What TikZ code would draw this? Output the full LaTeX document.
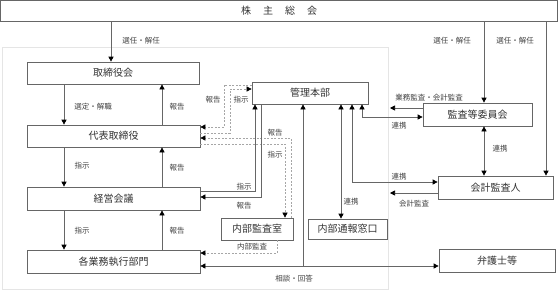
\documentclass[tikz,border=0pt]{standalone}
\usepackage{fontspec}
\setmainfont{Noto Sans CJK JP}
\usetikzlibrary{arrows.meta,calc}
\tikzset{
  box/.style={draw=black!60, line width=0.7pt, rectangle, inner sep=0pt, font=\fontsize{10}{12}\selectfont, text=black!80},
  lbl/.style={font=\fontsize{7.5}{9}\selectfont, text=black!75, inner sep=0pt},
  conn/.style={draw=black!60, line width=0.7pt},
  dconn/.style={draw=black!35, line width=0.6pt, dash pattern=on 2pt off 1.5pt},
  arr/.style={-{Triangle[length=5pt,width=5pt,color=black]}},
  darr/.style={{Triangle[length=5pt,width=5pt,color=black]}-{Triangle[length=5pt,width=5pt,color=black]}},
}
\begin{document}
\begin{tikzpicture}[x=1pt,y=-1pt]
\useasboundingbox (0,0) rectangle (560,290);
% container
\draw[draw=black!10, line width=0.6pt] (2,47) rectangle (388,289);
% boxes
\node[box, minimum width=557pt, minimum height=21pt] (top) at (279,11) {株\hspace{12pt}主\hspace{12pt}総\hspace{12pt}会};
\node[box, minimum width=172pt, minimum height=22pt] (tori) at (113,73) {取締役会};
\node[box, minimum width=173pt, minimum height=22pt] (daihyo) at (113.5,136) {代表取締役};
\node[box, minimum width=173pt, minimum height=23pt] (keiei) at (113.5,198.5) {経営会議};
\node[box, minimum width=173pt, minimum height=23pt] (kaku) at (113.5,261.5) {各業務執行部門};
\node[box, minimum width=116pt, minimum height=22pt] (kanri) at (310,93) {管理本部};
\node[box, minimum width=109pt, minimum height=23pt] (kansa) at (477.5,114.5) {監査等委員会};
\node[box, minimum width=115pt, minimum height=23pt] (kaikei) at (495.5,187.5) {会計監査人};
\node[box, minimum width=72pt, minimum height=22pt] (naibu) at (257,229) {内部監査室};
\node[box, minimum width=79pt, minimum height=20pt] (tsuho) at (347.5,229) {内部通報窓口};
\node[box, minimum width=116pt, minimum height=23pt] (bengo) at (497,260.5) {弁護士等};

% from shareholders meeting
\draw[conn,arr] (top.south -| 111,0) -- (tori.north -| 111,0);
\node[lbl] (l1) at (141,41) {選任・解任};
\draw[conn,arr] (top.south -| 484,0) -- (kansa.north -| 484,0);
\node[lbl] (l2) at (452,41) {選任・解任};
\draw[conn,arr] (top.south -| 546,0) -- (kaikei.north -| 546,0);
\node[lbl] (l3) at (515,41) {選任・解任};

% left column
\draw[conn,arr] (tori.south -| 64,0) -- (daihyo.north -| 64,0);
\node[lbl] (l4) at (93,107) {選定・解職};
\draw[conn,arr] (daihyo.north -| 162,0) -- (tori.south -| 162,0);
\node[lbl] (l5) at (177,107) {報告};
\draw[conn,arr] (daihyo.south -| 64,0) -- (keiei.north -| 64,0);
\node[lbl] (l6) at (82,166) {指示};
\draw[conn,arr] (keiei.north -| 162,0) -- (daihyo.south -| 162,0);
\node[lbl] (l7) at (177,168) {報告};
\draw[conn,arr] (keiei.south -| 64,0) -- (kaku.north -| 64,0);
\node[lbl] (l8) at (82,231) {指示};
\draw[conn,arr] (kaku.north -| 162,0) -- (keiei.south -| 162,0);
\node[lbl] (l9) at (177,231) {報告};

% dashed: kanri <-> daihyo
\draw[dconn,arr] (kanri.west |- 0,85) -| (224,127) -- (daihyo.east |- 0,127);
\node[lbl] (l10) at (213,100) {報告};
\draw[dconn,arr] (daihyo.east |- 0,133) -| (230,89) -- (kanri.west |- 0,89);
\node[lbl] (l11) at (241,100) {指示};

% dashed: naibu kansa <-> daihyo
\draw[dconn,arr] (naibu.north -| 291,0) |- (daihyo.east |- 0,138);
\node[lbl] (l12) at (275,133) {報告};
\draw[dconn,arr] (daihyo.east |- 0,144) -| (naibu.north -| 285,0);
\node[lbl] (l13) at (275,155) {指示};
\draw[dconn,arr] (naibu.south -| 277,0) |- (kaku.east |- 0,253);
\node[lbl] (l14) at (252,247) {内部監査};

% keiei <-> kanri
\draw[conn,arr] (keiei.east |- 0,191) -| (kanri.south -| 255,0);
\node[lbl] (l15) at (244,187) {指示};
\draw[conn,arr] (kanri.south -| 261,0) |- (keiei.east |- 0,197);
\node[lbl] (l16) at (244,206) {報告};

% consultation
\coordinate (j1) at (303,266);
\draw[conn,darr] (kaku.east |- 0,266) -- (bengo.west |- 0,266);
\draw[conn,arr] (j1) -- (kanri.south -| 303,0);
\node[lbl] (l17) at (294,279) {相談・回答};

% kanri to the right
\draw[conn,darr] (kanri.south -| 341,0) -- (tsuho.north -| 341,0);
\node[lbl] (l18) at (351,202) {連携};
\draw[conn,darr] (kanri.south -| 352,0) |- (kaikei.west |- 0,182);
\node[lbl] (l19) at (399,177) {連携};
\draw[conn,darr] (kanri.south -| 362,0) |- (kansa.west |- 0,117);
\node[lbl] (l20) at (399,126) {連携};

% audit arrows
\coordinate (e1) at (390,108);
\draw[conn,arr] (kansa.west |- 0,108) -- (e1);
\node[lbl] (l21) at (429,98) {業務監査・会計監査};
\coordinate (e2) at (390,193);
\draw[conn,arr] (kaikei.west |- 0,193) -- (e2);
\node[lbl] (l22) at (414,204) {会計監査};

\draw[conn,darr] (kansa.south -| 484,0) -- (kaikei.north -| 484,0);
\node[lbl] (l23) at (500,149) {連携};
\end{tikzpicture}
\end{document}
